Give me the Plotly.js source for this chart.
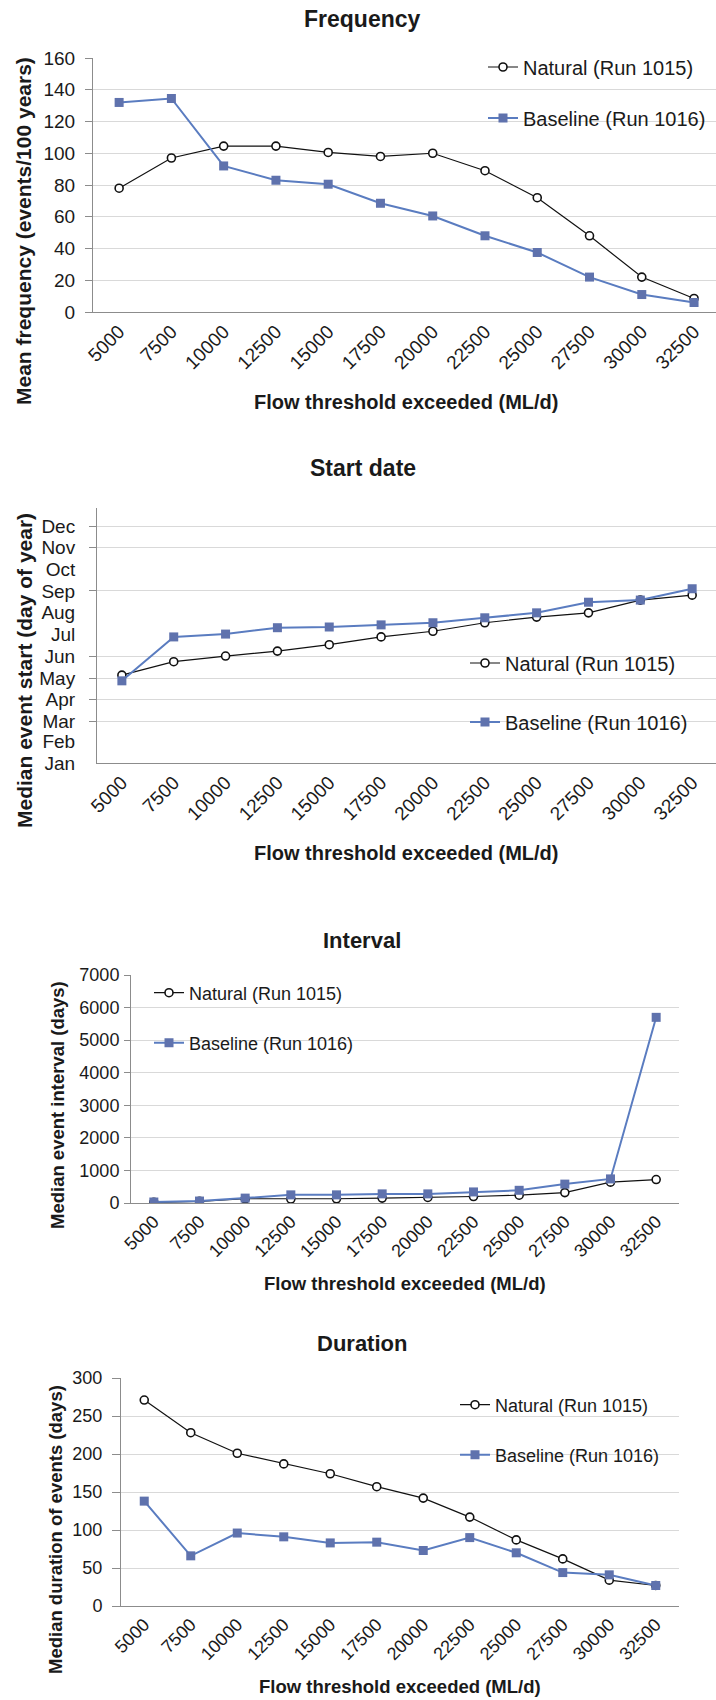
<!DOCTYPE html>
<html>
<head>
<meta charset="utf-8">
<script src="https://cdn.plot.ly/plotly-3.0.1.min.js"></script>
<style>
html,body{margin:0;padding:0;background:#fff;}
#chart{width:716px;height:1700px;}
</style>
</head>
<body>
<div id="chart"></div>
<script>
// ---- data ----
const thresholds = ['5000','7500','10000','12500','15000','17500','20000','22500','25000','27500','30000','32500'];
const freqNatural  = [78, 97, 104.5, 104.5, 100.5, 98, 100, 89, 72, 48, 22, 8.5];
const freqBaseline = [132, 134.5, 92, 83, 80.5, 68.5, 60.5, 48, 37.5, 22, 11, 6];
const startNatural  = [124, 143, 151, 158, 167, 178, 186, 198, 206, 212, 230, 237];
const startBaseline = [116, 178, 182, 191, 192, 195, 198, 205, 212, 227, 230, 246];
const intervalNatural  = [20, 50, 130, 120, 130, 150, 170, 200, 240, 320, 640, 720];
const intervalBaseline = [30, 60, 150, 250, 250, 280, 280, 340, 390, 580, 740, 5700];
const durationNatural  = [271, 228, 201, 187, 174, 157, 142, 117, 87, 62, 34, 27];
const durationBaseline = [138, 66, 96, 91, 83, 84, 73, 90, 70, 44, 41, 27];
const monthLabels = ['Jan','Feb','Mar','Apr','May','Jun','Jul','Aug','Sep','Oct','Nov','Dec'];
const monthStartDay = [0,31,59,90,120,151,181,212,243,273,304,334];
const monthGridDays = [59,90,120,151,243,304,334];
const natName = 'Natural (Run 1015)';
const baseName = 'Baseline (Run 1016)';

// ---- page geometry helpers ----
const W = 716, H = 1700;
const FONT = 'Liberation Sans, Arial, sans-serif';
const TXT = '#1a1a1a';
const px = v => v / W;
const py = v => 1 - v / H;

function natTrace(y, xa, ya, lg){
  return {x: thresholds, y: y, xaxis: xa, yaxis: ya, name: natName, legend: lg,
    type: 'scatter', mode: 'lines+markers',
    line: {color: '#111', width: 1.2},
    marker: {symbol: 'circle', size: 8, color: '#fff', line: {color: '#111', width: 1.6}}};
}
function baseTrace(y, xa, ya, lg){
  return {x: thresholds, y: y, xaxis: xa, yaxis: ya, name: baseName, legend: lg,
    type: 'scatter', mode: 'lines+markers',
    line: {color: '#5a7cc0', width: 2},
    marker: {symbol: 'square', size: 9, color: '#5f72ad'}};
}

const data = [
  natTrace(freqNatural, 'x', 'y', 'legend'),
  baseTrace(freqBaseline, 'x', 'y', 'legend2'),
  natTrace(startNatural, 'x2', 'y2', 'legend3'),
  baseTrace(startBaseline, 'x2', 'y2', 'legend4'),
  natTrace(intervalNatural, 'x3', 'y3', 'legend5'),
  baseTrace(intervalBaseline, 'x3', 'y3', 'legend6'),
  natTrace(durationNatural, 'x4', 'y4', 'legend7'),
  baseTrace(durationBaseline, 'x4', 'y4', 'legend8')
];

function xAxis(l, r, range, anchor, fs){
  return {domain: [px(l), px(r)], range: range, type: 'category', anchor: anchor,
    tickangle: -45, showline: true, linecolor: '#8c8c8c', linewidth: 1,
    showgrid: false, zeroline: false, ticks: '', automargin: false,
    tickfont: {family: FONT, size: fs, color: TXT}};
}
function yAxis(top, bottom, range, dtick, anchor, fs, ticklen, standoff){
  return {domain: [py(bottom), py(top)], range: range, dtick: dtick, anchor: anchor,
    showline: true, linecolor: '#8c8c8c', linewidth: 1,
    showgrid: true, gridcolor: '#d9d9d9', gridwidth: 1, zeroline: false,
    ticks: 'outside', ticklen: ticklen, tickcolor: '#8c8c8c', ticklabelstandoff: standoff,
    automargin: false, tickfont: {family: FONT, size: fs, color: TXT}};
}
function legendAt(textX, cy, fs){
  return {x: px(textX - 42), y: py(cy), xanchor: 'left', yanchor: 'middle',
    bgcolor: 'rgba(0,0,0,0)', borderwidth: 0,
    font: {family: FONT, size: fs, color: TXT}};
}
function ann(text, x, y, fs, angle){
  return {xref: 'paper', yref: 'paper', x: px(x), y: py(y), xanchor: 'center', yanchor: 'middle',
    text: '<b>' + text + '</b>', showarrow: false, textangle: angle || 0,
    font: {family: FONT, size: fs, color: TXT}};
}

// start-date axis: month labels, with gridlines/ticks only at some months (as in the original)
const y2 = yAxis(508, 763, [0, 360], null, 'x2', 19, 0, 17);
y2.tickvals = monthStartDay; y2.ticktext = monthLabels; y2.showgrid = false; y2.ticks = '';
y2.minor = {tickvals: monthGridDays, showgrid: true, gridcolor: '#d9d9d9', gridwidth: 1,
  ticks: 'outside', ticklen: 7, tickcolor: '#8c8c8c'};

const layout = {
  width: W, height: H,
  margin: {l: 0, r: 0, t: 0, b: 0},
  paper_bgcolor: '#fff', plot_bgcolor: 'rgba(0,0,0,0)',
  font: {family: FONT, color: TXT},
  xaxis:  xAxis(93, 716, [-0.5, 11.42], 'y', 19),
  yaxis:  yAxis(58, 312, [0, 160], 20, 'x', 19, 7, 6),
  xaxis2: xAxis(97, 716, [-0.48, 11.46], 'y2', 19),
  yaxis2: y2,
  xaxis3: xAxis(131, 679, [-0.5, 11.5], 'y3', 18),
  yaxis3: yAxis(975, 1203, [0, 7000], 1000, 'x3', 18, 6, 1),
  xaxis4: xAxis(121, 679, [-0.5, 11.5], 'y4', 18),
  yaxis4: yAxis(1378, 1606, [0, 300], 50, 'x4', 18, 8, 6),
  legend:  legendAt(525, 67, 20),
  legend2: legendAt(525, 118, 20),
  legend3: legendAt(507, 663, 20),
  legend4: legendAt(507, 722, 20),
  legend5: legendAt(191, 993, 18),
  legend6: legendAt(191, 1043, 18),
  legend7: legendAt(497, 1405, 18),
  legend8: legendAt(497, 1455, 18),
  annotations: [
    ann('Frequency', 363, 19, 23),
    ann('Flow threshold exceeded (ML/d)', 406, 402, 20),
    ann('Mean frequency (events/100 years)', 24, 231, 21, -90),
    ann('Start date', 363, 468, 23),
    ann('Flow threshold exceeded (ML/d)', 406, 853, 20),
    ann('Median event start (day of year)', 24, 671, 21, -90),
    ann('Interval', 362, 940, 22),
    ann('Flow threshold exceeded (ML/d)', 405, 1283, 18.5),
    ann('Median event interval (days)', 57, 1105, 18.5, -90),
    ann('Duration', 362, 1343, 22),
    ann('Flow threshold exceeded (ML/d)', 400, 1686, 18.5),
    ann('Median duration of events (days)', 55, 1530, 18.5, -90)
  ],
  showlegend: true
};

Plotly.newPlot('chart', data, layout, {displayModeBar: false, staticPlot: true});
</script>
</body>
</html>
